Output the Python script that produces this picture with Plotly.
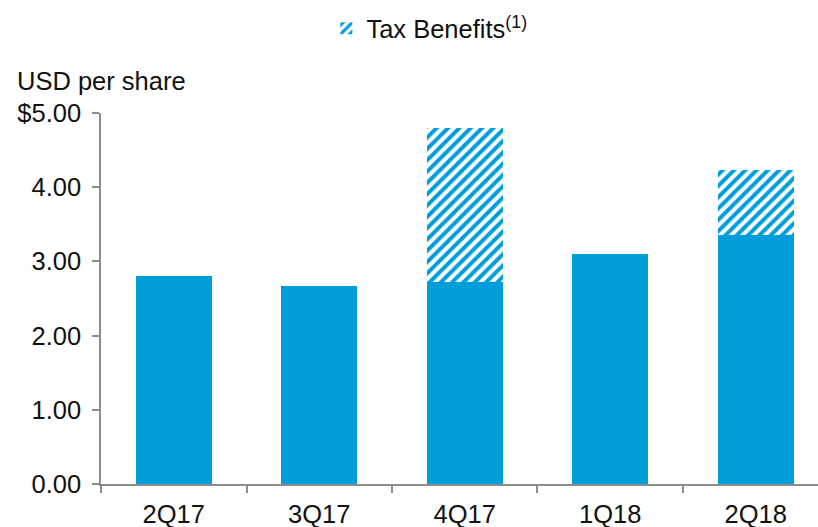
import plotly.graph_objects as go

# Quarterly earnings per share, with the one-off tax benefit stacked on top
quarters = ["2Q17", "3Q17", "4Q17", "1Q18", "2Q18"]
eps_core = [2.81, 2.67, 2.72, 3.10, 3.35]
tax_benefit = [None, None, 2.08, None, 0.88]

y_ticks = [0, 1, 2, 3, 4, 5]
y_tick_labels = ["0.00", "1.00", "2.00", "3.00", "4.00", "$5.00"]

BLUE = "#009DDB"
AXIS = "#8C8C8C"
FONT = "Liberation Sans, Arial, sans-serif"
FS = 25.5

fig = go.Figure()
fig.add_trace(go.Bar(
    x=quarters, y=eps_core, name="EPS",
    marker=dict(color=BLUE, line=dict(width=0)),
    width=0.52, showlegend=False,
))
fig.add_trace(go.Bar(
    x=quarters, y=tax_benefit, name="Tax Benefits<sup>(1)</sup>",
    marker=dict(
        color="white", line=dict(width=0),
        pattern=dict(shape="/", fgcolor=BLUE, bgcolor="white", fgopacity=1,
                     size=8, solidity=0.5, fillmode="replace"),
    ),
    width=0.52,
))

fig.update_layout(
    width=818, height=527,
    barmode="stack",
    margin=dict(l=101, r=0, t=113, b=43),
    paper_bgcolor="white", plot_bgcolor="white",
    font=dict(family=FONT, size=FS, color="#111111"),
    legend=dict(orientation="h", x=0.458, xanchor="center",
                y=0.99, yref="container", yanchor="top",
                font=dict(size=FS), itemwidth=30, bgcolor="rgba(0,0,0,0)"),
    annotations=[dict(
        text="USD per share", xref="paper", yref="paper",
        x=-0.12, y=1.085, xanchor="left", yanchor="middle",
        showarrow=False, font=dict(size=FS),
    )],
)

fig.update_xaxes(
    range=[-0.5, 4.428], showline=True, linecolor=AXIS, linewidth=1.5,
    ticks="outside", tickson="boundaries", ticklen=7, tickcolor=AXIS, tickwidth=1.5,
    showgrid=False, ticklabelstandoff=7,
)
fig.update_yaxes(
    range=[0, 5], tickvals=y_ticks, ticktext=y_tick_labels,
    showline=True, linecolor=AXIS, linewidth=1.5,
    ticks="outside", ticklen=7, tickcolor=AXIS, tickwidth=1.5,
    showgrid=False, zeroline=False, ticklabelstandoff=6,
)

fig.write_html("out.html")
